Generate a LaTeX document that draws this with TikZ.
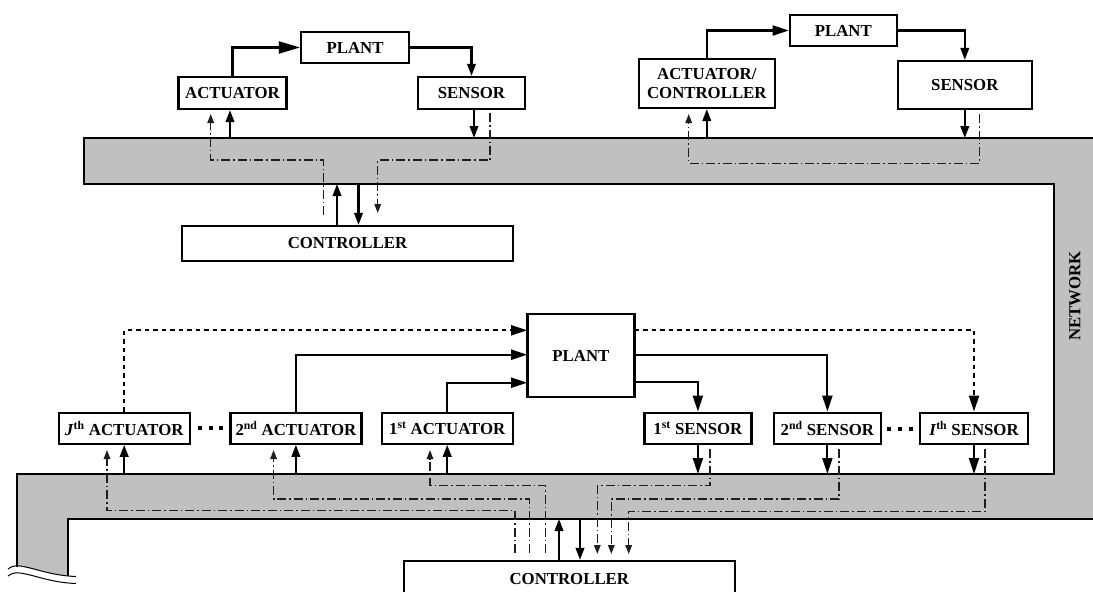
\documentclass[tikz,border=0pt]{standalone}
\usepackage{fontspec}
\setmainfont{Liberation Serif}
\usetikzlibrary{arrows.meta,calc}
\definecolor{bandgray}{RGB}{192,192,192}
\definecolor{ddcol}{RGB}{30,30,30}
\begin{document}
\begin{tikzpicture}[x=1pt,y=-1pt,
  box/.style={draw,line width=2.2pt,fill=white,inner sep=0pt,
    font=\bfseries\fontsize{16.8}{18.5}\selectfont,align=center},
  sarr/.style={line width=2.1pt,-{Triangle[length=12pt,width=8.5pt]}},
  midarr/.style={line width=2.1pt,-{Triangle[length=16pt,width=10pt]}},
  bigarr/.style={line width=2.1pt,-{Triangle[length=21pt,width=12pt]}},
  ddline/.style={line width=1.4pt,draw=ddcol,dash pattern=on 9pt off 3pt on 1.5pt off 3pt},
  ddarr/.style={ddline,-{Triangle[length=9pt,width=6.5pt]}},
  dotarr/.style={line width=2.1pt,dash pattern=on 4.5pt off 4pt,-{Triangle[length=16pt,width=10pt]}},
  bandline/.style={line width=2.1pt}
]
\useasboundingbox (0,0) rectangle (1093,592);

% ---------------- network band ----------------
\fill[bandgray] (84,138) -- (1093,138) -- (1093,519) -- (68,519) -- (68,585)
  -- (16.7,585) -- (16.7,474) -- (1054,474) -- (1054,184) -- (84,184) -- cycle;
\fill[white] (6,569.5) .. controls (12,566) and (15,565.5) .. (20,566)
  .. controls (35,568) and (50,575.5) .. (78,576.5) -- (78,592) -- (6,592) -- cycle;
\draw[line width=1pt] (8,569) .. controls (12,566) and (15,565.5) .. (20,566)
  .. controls (35,568) and (50,575.5) .. (76,576.5);
\draw[line width=1pt] (8,576) .. controls (12,573) and (15,572.5) .. (20,573)
  .. controls (35,575) and (50,582.5) .. (76,583.5);
\draw[bandline] (1093,138) -- (84,138) -- (84,184) -- (1054,184) -- (1054,474)
  -- (16.7,474) -- (16.7,566.5);
\draw[bandline] (68,576) -- (68,519) -- (1093,519);
\node[rotate=90,font=\bfseries\fontsize{16.8}{18.5}\selectfont] (net) at (1075,296) {NETWORK};

% ---------------- top-left loop ----------------
\node[box,minimum width=108pt,minimum height=31pt] (plantA) at (355,47.5) {PLANT};
\node[box,minimum width=108pt,minimum height=32pt] (actA) at (232.5,93) {ACTUATOR};
\node[box,minimum width=107pt,minimum height=32pt] (senA) at (471.5,93) {SENSOR};
\node[box,minimum width=331pt,minimum height=35pt] (ctrlA) at (347.5,243.5) {CONTROLLER};

\draw[bigarr] (actA.north) |- (plantA.west);
\draw[sarr] (plantA.east) -| (senA.north);
\coordinate (tlA1) at (230,138);
\draw[sarr] (tlA1) -- (tlA1 |- actA.south);
\coordinate (tlC1) at (323.7,215);
\coordinate (tlA2) at (210.7,114);
\draw[ddarr] (tlC1) -- (323.7,160) -| (tlA2);
\coordinate (tlU) at (337,184);
\draw[sarr] (tlU |- ctrlA.north) -- (tlU);
\coordinate (tlD) at (358.5,184);
\draw[sarr] (tlD) -- (tlD |- ctrlA.north);
\coordinate (tlS1) at (474,138);
\draw[sarr] (tlS1 |- senA.south) -- (tlS1);
\coordinate (tlS2) at (490,113);
\coordinate (tlC2) at (377.7,213);
\draw[ddarr] (tlS2) -- (490,160) -| (tlC2);

% ---------------- top-right loop ----------------
\node[box,minimum width=107pt,minimum height=31pt] (plantC) at (843.3,30.5) {PLANT};
\node[box,minimum width=136pt,minimum height=49pt] (actC) at (706.8,83.5) {ACTUATOR/\\CONTROLLER};
\node[box,minimum width=133.6pt,minimum height=48pt] (senC) at (964.8,85) {SENSOR};

\draw[midarr] (actC.north) |- (plantC.west);
\draw[sarr] (plantC.east) -| (senC.north);
\coordinate (trA1) at (706.8,138);
\draw[sarr] (trA1) -- (actC.south);
\coordinate (trS1) at (964.8,138);
\draw[sarr] (senC.south) -- (trS1);
\coordinate (trS2) at (979.3,114);
\coordinate (trA2) at (688.7,114);
\draw[ddarr] (trS2) -- (979.3,163.3) -| (trA2);

% ---------------- bottom: multiple actuators / sensors ----------------
\node[box,minimum width=131pt,minimum height=31pt] (actJ) at (124.2,428.2) {\textit{J}\textsuperscript{th} ACTUATOR};
\node[box,minimum width=131pt,minimum height=31pt] (act2) at (295.9,428.2) {2\textsuperscript{nd} ACTUATOR};
\node[box,minimum width=131pt,minimum height=31pt] (act1) at (447.2,428.2) {1\textsuperscript{st} ACTUATOR};
\node[box,minimum width=107pt,minimum height=83pt] (plantB) at (580.9,355.7) {PLANT};
\node[box,minimum width=107pt,minimum height=31pt] (sen1) at (697.9,428.2) {1\textsuperscript{st} SENSOR};
\node[box,minimum width=107pt,minimum height=31pt] (sen2) at (827.4,428.2) {2\textsuperscript{nd} SENSOR};
\node[box,minimum width=107.6pt,minimum height=31pt] (senI) at (974,428.2) {\textit{I}\textsuperscript{th} SENSOR};
\node[box,minimum width=330.6pt,minimum height=37pt] (ctrlB) at (569.3,579.5) {CONTROLLER};

% ellipsis dots
\draw[line width=4pt,dash pattern=on 4pt off 6.7pt] (198,428) -- (224,428);
\draw[line width=4pt,dash pattern=on 4pt off 6.7pt] (887.3,429) -- (913,429);

% actuators -> plant
\coordinate (pin1) at (527.2,330.3);
\coordinate (pin2) at (527.2,354.7);
\coordinate (pin3) at (527.2,382.7);
\draw[dotarr] (actJ.north) |- (pin1);
\draw[midarr] (act2.north) |- (pin2);
\draw[midarr] (act1.north) |- (pin3);

% plant -> sensors
\coordinate (pout1) at (634.5,330.3);
\coordinate (pout2) at (634.5,354.7);
\coordinate (pout3) at (634.5,382.3);
\draw[dotarr] (pout1) -| (senI.north);
\draw[midarr] (pout2) -| (sen2.north);
\draw[midarr] (pout3) -| (sen1.north);

% network -> actuators (solid)
\coordinate (bJ) at (124.2,474);
\coordinate (b2) at (295.9,474);
\coordinate (b1) at (447.2,474);
\draw[sarr] (bJ) -- (actJ.south);
\draw[sarr] (b2) -- (act2.south);
\draw[sarr] (b1) -- (act1.south);

% controller -> actuators (dash-dot)
\coordinate (cJ) at (515,553);
\coordinate (aJ) at (107,450);
\draw[ddarr] (cJ) -- (515,510.7) -| (aJ);
\coordinate (c2) at (529.3,553);
\coordinate (a2) at (273.6,450);
\draw[ddarr] (c2) -- (529.3,499) -| (a2);
\coordinate (c1) at (545.7,553);
\coordinate (a1) at (430,450);
\draw[ddarr] (c1) -- (545.7,485.7) -| (a1);

% controller <-> network (solid)
\coordinate (bU) at (559,519);
\draw[sarr] (bU |- ctrlB.north) -- (bU);
\coordinate (bD) at (580,519);
\draw[sarr] (bD) -- (bD |- ctrlB.north);

% sensors -> network (solid)
\coordinate (s1b) at (697.9,474);
\coordinate (s2b) at (827.4,474);
\coordinate (sIb) at (974,474);
\draw[midarr] (sen1.south) -- (s1b);
\draw[midarr] (sen2.south) -- (s2b);
\draw[midarr] (senI.south) -- (sIb);

% sensors -> controller (dash-dot)
\coordinate (s1d) at (710,449);
\coordinate (k1) at (597.3,554);
\draw[ddarr] (s1d) -- (710,485.7) -| (k1);
\coordinate (s2d) at (838.8,449);
\coordinate (k2) at (611.3,554);
\draw[ddarr] (s2d) -- (838.8,499) -| (k2);
\coordinate (sId) at (984.9,449);
\coordinate (kI) at (628.7,554);
\draw[ddarr] (sId) -- (984.9,511.3) -| (kI);
\end{tikzpicture}
\end{document}
